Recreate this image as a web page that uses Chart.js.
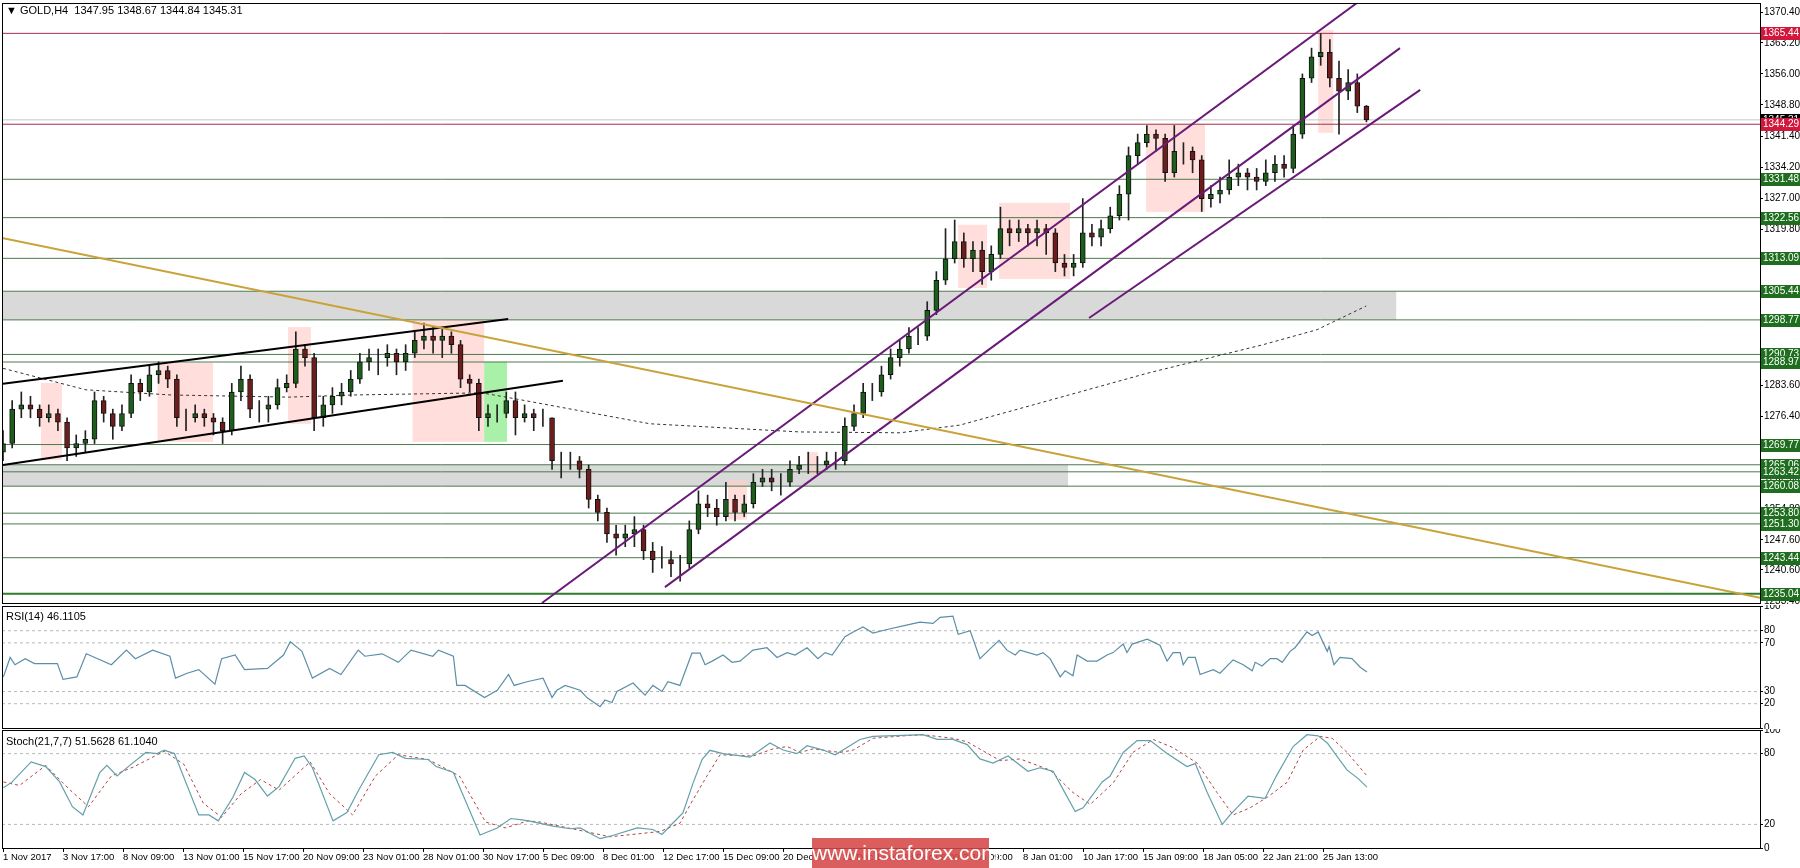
<!DOCTYPE html>
<html>
<head>
<meta charset="utf-8">
<script src="https://cdn.jsdelivr.net/npm/chart.js@4.4.1/dist/chart.umd.min.js"></script>
<style>
  body { margin: 0; background: #fff; width: 1800px; height: 868px; overflow: hidden; position: relative; font-family: "Liberation Sans", Arial, sans-serif; }
  canvas { position: absolute; left: 0; }
  #main { top: 0; }
  #rsi { top: 605px; }
  #stoch { top: 729px; }
  .lbl { position: absolute; font-size: 11px; color: #000; white-space: pre; }
  #wm { position: absolute; left: 812px; top: 838px; width: 177px; height: 30px; background: rgba(214, 72, 72, 0.88);
        color: #fff; font-size: 21px; line-height: 30px; text-align: center; }
</style>
</head>
<body>
<canvas id="main" width="1800" height="605"></canvas>
<canvas id="rsi" width="1800" height="124"></canvas>
<canvas id="stoch" width="1800" height="139"></canvas>
<div class="lbl" style="left:6px;top:4px">▼ GOLD,H4  1347.95 1348.67 1344.84 1345.31</div>
<div class="lbl" style="left:6px;top:610px">RSI(14) 46.1105</div>
<div class="lbl" style="left:6px;top:735px">Stoch(21,7,7) 51.5628 61.1040</div>
<div id="wm">www.instaforex.com</div>
<script>
// ---- data (x positions are in H4 bars since 1 Nov 2017 00:00) ----
const xTickBars = [0,16,32,48,64,80,96,112,128,144,160,176,192,208,224,240,256,272,288,304,320,336,352];
const xLabels = ['1 Nov 2017','3 Nov 17:00','8 Nov 09:00','13 Nov 01:00','15 Nov 17:00','20 Nov 09:00','23 Nov 01:00',
  '28 Nov 01:00','30 Nov 17:00','5 Dec 09:00','8 Dec 01:00','12 Dec 17:00','15 Dec 09:00','20 Dec 01:00','22 Dec 17:00',
  '28 Dec 09:00','3 Jan 09:00','8 Jan 01:00','10 Jan 17:00','15 Jan 09:00','18 Jan 05:00','22 Jan 21:00','25 Jan 13:00'];
const priceTicks = [1370.40,1363.20,1356.00,1348.80,1341.40,1334.20,1327.00,1319.80,1312.60,1305.40,1298.20,1291.00,
  1283.60,1276.40,1269.20,1262.00,1254.80,1247.60,1240.60,1233.40];

const CANDLE_STEP = 2.44; // each drawn candle covers ~2.44 H4 bars
const firstOpen = 1268;
const closes = [1270,1278,1279,1278,1276,1277,1275,1269,1270,1271,1280,1277,1274,1277,1284,1282,1286,1287,1285,1276,
  1276,1277,1276,1275,1273,1282,1285,1278,1278,1279,1283,1284,1292,1290,1276,1279,1281,1282,1285,1289,
  1290,1290,1291,1289,1291,1294,1295,1294,1295,1293,1285,1284,1276,1277,1277,1280,1276,1277,1276,1276,
  1266,1266,1266,1264,1257,1254,1249,1248,1249,1250,1245,1243,1243,1242,1242,1250,1256,1255,1253,1257,
  1254,1256,1261,1262,1261,1261,1264,1265,1265,1265,1266,1266,1274,1277,1282,1282,1286,1290,1292,1295,
  1295,1301,1308,1313,1317,1313,1315,1310,1314,1320,1319,1320,1319,1320,1319,1312,1311,1312,1319,1318,
  1320,1323,1328,1337,1340,1342,1341,1333,1338,1338,1336,1327,1328,1329,1332,1333,1332,1331,1333,1335,
  1334,1342,1355,1360,1361,1355,1352,1354,1348.5,1345.31];
const highs = [1273,1280,1282,1281,1279,1279,1278,1276,1272,1273,1282,1281,1278,1279,1286,1285,1288,1289,1288,1286,
  1278,1279,1278,1277,1276,1284,1288,1286,1280,1281,1285,1286,1296,1293,1291,1281,1283,1284,1287,1291,
  1292,1292,1293,1292,1293,1296,1298,1297,1297,1296,1294,1286,1285,1279,1279,1282,1282,1279,1278,1278,
  1276,1268,1268,1267,1265,1258,1255,1251,1251,1253,1251,1247,1246,1245,1244,1252,1259,1258,1257,1261,
  1258,1258,1263,1264,1264,1263,1266,1267,1268,1267,1268,1268,1276,1279,1284,1284,1288,1292,1294,1297,
  1297,1303,1310,1320,1322,1319,1317,1317,1316,1325,1322,1322,1321,1322,1321,1320,1314,1314,1327,1321,
  1322,1325,1330,1339,1342,1344,1343,1342,1344,1340,1339,1337,1330,1332,1336,1335,1334,1334,1336,1337,
  1337,1344,1356,1362,1365.4,1364,1359,1357,1356,1348.67];
const lows = [1266,1269,1276,1276,1274,1275,1273,1266,1267,1268,1270,1275,1271,1273,1276,1280,1281,1284,1283,1274,
  1273,1275,1274,1272,1270,1272,1280,1276,1275,1275,1278,1282,1283,1288,1273,1274,1277,1279,1281,1284,
  1287,1286,1288,1286,1287,1290,1292,1291,1290,1291,1283,1282,1273,1274,1275,1276,1272,1275,1273,1274,
  1264,1262,1264,1262,1255,1252,1247,1244,1246,1246,1243,1240,1241,1239,1238,1241,1249,1253,1251,1252,
  1252,1253,1255,1260,1259,1258,1260,1263,1263,1263,1264,1264,1265,1273,1276,1280,1281,1285,1288,1291,
  1293,1294,1300,1307,1312,1311,1310,1307,1308,1313,1316,1317,1316,1316,1314,1310,1309,1309,1311,1316,
  1316,1319,1322,1322,1335,1339,1338,1331,1332,1335,1333,1324,1325,1326,1328,1330,1329,1329,1330,1331,
  1332,1333,1341,1354,1358,1353,1342,1350,1347,1344.84];

const maBars = [0,22.1,44.8,76.3,93.6,127.7,137.9,172.5,212.5,239.2,255.2,274.7,305.3,336,350.4,363.5];
const maVals = [1287.5,1282.5,1281.3,1280.8,1281.3,1281.8,1280.2,1274.6,1272.7,1272.5,1274.3,1279,1286.4,1293,1296.5,1302];

const greenLevels = [1331.48,1322.56,1313.09,1305.44,1298.77,1290.73,1288.97,1269.77,1265.06,1263.42,1260.08,1253.80,1251.30,1243.44,1235.04];
const redLevels = [1365.44,1344.29];
const lastPrice = 1345.31;

// trend lines: [x1, y1, x2, y2, colour]
const trendLines = [
  [-0.27,1317.83,468.5,1234.09,'#c9a23a'],
  [0,1283.9,134.7,1299.0,'#000000'],
  [0,1265.0,149.3,1284.6,'#000000'],
  [143.7,1232.9,361.3,1372.7,'#6a1b78'],
  [176.5,1236.6,372.5,1362.0,'#6a1b78'],
  [289.6,1299.2,377.9,1352.3,'#6a1b78']
];
// zones: [x1, x2, top, bottom]
const greyZones = [[-0.27,371.5,1305.44,1298.77],[-0.27,284,1265.06,1260.08]];
const pinkZones = [[10.1,15.7,1284.1,1266.2],[41.2,56,1288.8,1270.4],[76,82.1,1297.1,1274.6],[109.2,128.3,1298.8,1270.4],
  [193.3,198.4,1261.5,1252.3],[214.4,217.3,1268,1262.7],[254.7,262.4,1320.9,1306.2],[265.6,284.5,1326,1308.3],
  [304.8,320.5,1344.3,1323.9],[350.7,354.7,1366.2,1342.3]];
const greenZones = [[128.3,134.4,1289,1270.4]];

const rsiBars = [0.1,1.9,3.2,5.9,8.4,14.5,16,19.7,22.2,28.9,32.9,35.3,39.9,44.5,46,49.1,52.2,56.5,58.3,61.9,64.4,70.5,74.8,76.6,79.7,
  82.5,87.1,90.1,94.7,96.5,101.1,105.4,108.8,114.6,116.1,120.1,121,123.2,128.4,131.8,134.8,136.3,139.7,144,146.4,147.7,149.9,153.9,
  155.7,159.2,160.5,162.4,163.7,168,171.2,173.3,175.7,177.3,180.5,183.7,185.9,187.2,189.1,192,194.4,196.5,200,203.7,206.4,209.1,
  211.2,214.4,217.3,219.2,221.1,224.5,226.7,229.3,232,235.7,240,244.5,248,249.9,253.3,254.7,257.9,260.5,263.2,265.6,267.7,269.9,
  271.2,275.7,277.3,279.2,281.9,283.2,285.3,286.4,289.1,291.7,294.4,296,298.7,299.7,301.1,305.1,308.5,310.4,312,313.9,314.7,316,
  317.9,319.2,322.7,324.5,328,330.7,333.1,333.9,335.7,337.9,339.7,341.1,343.2,344.5,347.7,349.1,350.7,353.1,353.6,354.9,356.5,
  359.7,361.9,363.7];
const rsiVals = [42,58,52,57,53,53,40,42,61,52,64,57,64,59,41,45,48,36,57,60,48,49,60,71,63,
  41,49,44,64,59,61,54,64,59,64,59,35,35,25,31,44,35,38,41,25,31,35,31,
  25,17.5,23,21,30,37,27,35,30,38,35,61.5,61.5,52,55,60,54,55,64,66,58,62,
  60,66,57,62,60,75,79,83,78,81,84,87,86,91,92,77,80,57,65,72,64,60,
  64,60,62,57,42,47,43,60,55,55,60,62,69,62,69,73,68,55,62,62,52,58,
  58,44,48,45,56,52,47,54,51,57,57,54,63,66,79,76,79,63,67,52,58,
  57,50,46.11];

const kBars = [0.1,2.3,7.5,11.4,15.1,18.5,21.3,25.8,27.7,30.4,33.8,38.1,41.1,43,45.7,52.2,54.9,57.4,61.3,64.4,67.2,70.5,73.6,77.9,
  80.3,82.5,88,91.7,95,100.2,103.9,107.3,113.4,115.5,120.1,127.2,131.8,135.4,137.9,140.5,143.2,146.7,151.2,153.9,159.2,161.9,169.1,
  173.3,175.7,178.7,181.3,184,186.4,188.5,192,199.2,204.5,208,211.7,214.4,218.7,221.9,228.5,232,240,245.3,249.1,253.3,257.1,260.5,
  264,268,273.3,276.5,280,282.7,285.9,288,293.1,295.2,298.7,302.4,305.9,310.4,315.7,317.9,321.1,325.1,327.2,332,336.5,339.7,344,
  347.7,350.7,353.1,358.4,361.3,363.7];
const kVals = [51,55.6,73,69,56,35,28,64,70,61,70,81,80,83,80,28,28,23,43,64,58,44,52,76,
  78,68,23,30,50,79,81,76,75,69,64,11,17,25,24,22.7,20.8,18.5,16.3,17,7.9,10,17,
  15.7,11.5,21.4,29.8,55,75,82.8,80,77,89,83,80,86.7,83,79,92,94.6,95.5,96,92,92,87.6,75.5,
  72,78,65,68,65,49.5,31,34,56,61,81,91,91,80,69,71.5,47,20,28,44,42,62,86,
  96,95,89,66,59,51.56];
const dBars = [0.1,4.4,11.4,17.6,22.8,28.9,35,43,48.2,53.4,58.3,63.5,68.7,73.6,81.9,87.1,93.2,99.3,105.4,113.4,121.7,128.7,133.9,
  140,143.2,161.9,175.2,180.5,184,187.7,191.2,200,205.3,209.1,212.5,216,223.2,226.7,232,240,245.3,253.3,257.1,265.9,271.2,279.2,
  285.3,289.9,296,301.3,306.7,312,318.4,323.7,328,332.5,337.1,342.4,346.7,351.2,354.4,358.4,363.7];
const dVals = [56,53,70,50,35,61,69,82,71,38,26,46,58,49,73,46,28,61,79,75,61,22,17,
  23,22,9.5,14,21,41,61,79,78,84,86,81,84,81,83,93,95,96,93,90,74,75.5,66,
  47,37,55,81,92,85,72,47,28,34,43,55.6,83,94.6,93,81,61.1];

// ---- helpers ----
const X_MIN = -0.27, X_MAX = 468.5;
const FONT = { family: '"Liberation Sans", Arial, sans-serif', size: 10 };
Chart.defaults.font = FONT;
Chart.defaults.color = '#000';

function seg(x1, y1, x2, y2, color, width, dash, order) {
  return { type: 'line', data: [{ x: x1, y: y1 }, { x: x2, y: y2 }], borderColor: color, borderWidth: width,
    borderDash: dash || [], pointRadius: 0, order: order, tension: 0 };
}
function pts(xs, ys) { return xs.map((x, i) => ({ x: x, y: ys[i] })); }

function yAxis(min, max, ticks, fmt) {
  return {
    position: 'right', min: min, max: max,
    afterFit(a) { a.width = 40; a.paddingTop = 0; a.paddingBottom = 0; },
    afterBuildTicks(a) { a.ticks = ticks.map(v => ({ value: v })); },
    ticks: { autoSkip: false, padding: 1, callback: fmt },
    grid: { drawOnChartArea: false, tickLength: 3, color: '#000' },
    border: { color: '#000' }
  };
}
function xAxis(show) {
  return {
    type: 'linear', min: X_MIN, max: X_MAX, display: show, offset: false,
    afterFit(a) { a.height = show ? 20 : 0; a.paddingLeft = 0; a.paddingRight = 0; },
    afterBuildTicks(a) { a.ticks = xTickBars.map(v => ({ value: v })); },
    ticks: { autoSkip: false, maxRotation: 0, align: 'start', padding: 0, font: { size: 9.5 },
      callback: (v) => xLabels[xTickBars.indexOf(v)] },
    grid: { drawOnChartArea: false, tickLength: 4, color: '#000', offset: false },
    border: { display: false }
  };
}
const frame = {
  id: 'frame',
  afterDraw(c) {
    const a = c.chartArea, ctx = c.ctx;
    ctx.save();
    ctx.strokeStyle = '#000'; ctx.lineWidth = 1;
    ctx.strokeRect(a.left + 0.5, a.top + 0.5, a.right - a.left, a.bottom - a.top);
    ctx.restore();
  }
};
function zoneRects(ctx, c, list, fill) {
  const x = c.scales.x, y = c.scales.y;
  ctx.fillStyle = fill;
  list.forEach(z => {
    const x1 = x.getPixelForValue(z[0]), x2 = x.getPixelForValue(z[1]);
    const y1 = y.getPixelForValue(z[2]), y2 = y.getPixelForValue(z[3]);
    ctx.fillRect(x1, y1, x2 - x1, y2 - y1);
  });
}
const zones = {
  id: 'zones',
  beforeDatasetsDraw(c) {
    const ctx = c.ctx, a = c.chartArea;
    ctx.save();
    ctx.beginPath(); ctx.rect(a.left, a.top, a.right - a.left, a.bottom - a.top); ctx.clip();
    zoneRects(ctx, c, greyZones, '#d9d9d9');
    zoneRects(ctx, c, pinkZones, 'rgba(255, 205, 200, 0.65)');
    zoneRects(ctx, c, greenZones, 'rgba(140, 235, 140, 0.75)');
    ctx.restore();
  }
};
const priceTags = {
  id: 'priceTags',
  afterDraw(c) {
    const ctx = c.ctx, y = c.scales.y, a = c.chartArea;
    ctx.save();
    ctx.font = '10px "Liberation Sans", Arial, sans-serif';
    ctx.textBaseline = 'middle';
    const tag = (v, bg) => {
      const py = Math.round(y.getPixelForValue(v));
      ctx.fillStyle = bg;
      ctx.fillRect(a.right + 1, py - 6, 39, 13);
      ctx.fillStyle = '#fff';
      ctx.fillText(v.toFixed(2), a.right + 3, py + 0.5);
    };
    tag(lastPrice, '#000');
    redLevels.forEach(v => tag(v, '#d2163c'));
    greenLevels.forEach(v => tag(v, '#1f6e1f'));
    ctx.restore();
  }
};

// ---- main price chart ----
const upCol = '#1d5e1d', dnCol = '#6e1c1c';
const opens = closes.map((c, i) => i === 0 ? firstOpen : closes[i - 1]);
const bx = closes.map((c, i) => i * CANDLE_STEP);
const mainSets = [];
greenLevels.forEach(v => mainSets.push(seg(X_MIN, v, X_MAX, v, v === 1235.04 ? '#2e7d2e' : '#4d7a4d', v === 1235.04 ? 2 : 1, [], 6)));
redLevels.forEach(v => mainSets.push(seg(X_MIN, v, X_MAX, v, '#a0304e', 1, [], 6)));
mainSets.push(seg(X_MIN, lastPrice, X_MAX, lastPrice, '#c8c8c8', 1, [], 6));
mainSets.push({ type: 'line', data: pts(maBars, maVals), borderColor: '#333', borderWidth: 1, borderDash: [3, 3],
  pointRadius: 0, order: 5 });
mainSets.push({ type: 'bar', data: bx.map((x, i) => ({ x: x, y: [lows[i], highs[i]] })), backgroundColor: '#222',
  barThickness: 1, grouped: false, order: 4 });
mainSets.push({ type: 'bar', data: bx.map((x, i) => ({ x: x, y: [opens[i], closes[i]] })),
  backgroundColor: closes.map((c, i) => c >= opens[i] ? upCol : dnCol), borderColor: '#111', borderWidth: 1,
  borderSkipped: false, barThickness: 5, grouped: false, order: 3 });
trendLines.forEach(t => mainSets.push(seg(t[0], t[1], t[2], t[3], t[4], 2, [], 1)));

new Chart(document.getElementById('main'), {
  type: 'bar',
  data: { datasets: mainSets },
  options: {
    responsive: false, animation: false, devicePixelRatio: 1,
    layout: { padding: { top: 3, left: 2, bottom: 2, right: 0 } },
    plugins: { legend: { display: false }, tooltip: { enabled: false } },
    scales: { x: xAxis(false), y: yAxis(1232.9, 1372.5, priceTicks, v => v.toFixed(2)) }
  },
  plugins: [zones, frame, priceTags]
});

// ---- RSI ----
const rsiLevels = [80, 70, 30, 20];
new Chart(document.getElementById('rsi'), {
  type: 'line',
  data: { datasets: [
    ...rsiLevels.map(v => seg(X_MIN, v, X_MAX, v, '#b8b8b8', 1, [3, 3], 2)),
    { data: pts(rsiBars, rsiVals), borderColor: '#5b8fa6', borderWidth: 1.2, pointRadius: 0, order: 1 }
  ] },
  options: {
    responsive: false, animation: false, devicePixelRatio: 1,
    layout: { padding: { top: 1, left: 2, bottom: 1, right: 0 } },
    plugins: { legend: { display: false }, tooltip: { enabled: false } },
    scales: { x: xAxis(false), y: yAxis(0, 100.3, [100, 80, 70, 30, 20, 0], v => String(v)) }
  },
  plugins: [frame]
});

// ---- Stochastic ----
new Chart(document.getElementById('stoch'), {
  type: 'line',
  data: { datasets: [
    seg(X_MIN, 80, X_MAX, 80, '#b8b8b8', 1, [3, 3], 3),
    seg(X_MIN, 20, X_MAX, 20, '#b8b8b8', 1, [3, 3], 3),
    { data: pts(dBars, dVals), borderColor: '#b04444', borderWidth: 1, borderDash: [3, 3], pointRadius: 0, order: 2 },
    { data: pts(kBars, kVals), borderColor: '#62a0aa', borderWidth: 1.2, pointRadius: 0, order: 1 }
  ] },
  options: {
    responsive: false, animation: false, devicePixelRatio: 1,
    layout: { padding: { top: 1, left: 2, bottom: 0, right: 0 } },
    plugins: { legend: { display: false }, tooltip: { enabled: false } },
    scales: { x: xAxis(true), y: yAxis(0, 100, [100, 80, 20, 0], v => String(v)) }
  },
  plugins: [frame]
});
</script>
</body>
</html>
